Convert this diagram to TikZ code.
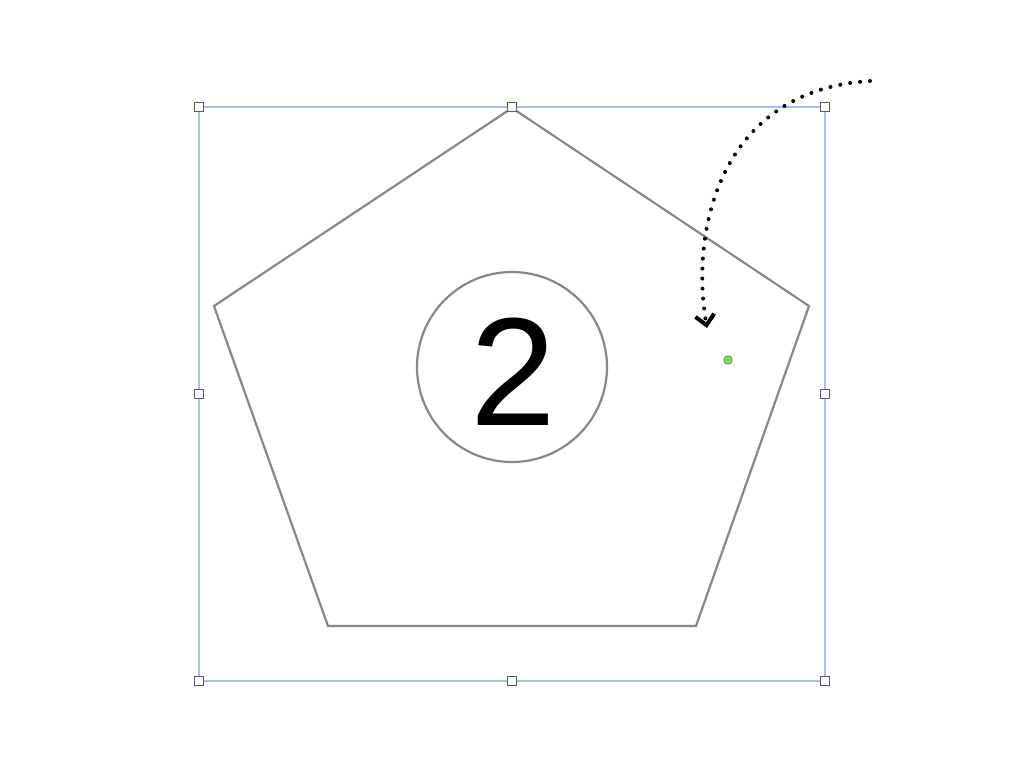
\documentclass[tikz,border=0pt]{standalone}
\usepackage{fontspec}
\setsansfont{Liberation Sans}
\usetikzlibrary{arrows.meta,positioning}
\definecolor{shapegray}{HTML}{888888}
\definecolor{selblue}{HTML}{A3BDF7}
\definecolor{handlegray}{HTML}{5A5A5A}
\definecolor{dotgreen}{HTML}{7FD65A}
\begin{document}
\begin{tikzpicture}[x=1pt,y=-1pt,semithick,
    outline/.style={draw=shapegray,line width=2.2pt},
    selbox/.style={draw=selblue,line width=1.3pt},
    handle/.style={draw=handlegray,fill=white,line width=1.2pt,minimum size=9pt,inner sep=0pt},
    dotarrow/.style={line width=4pt,line cap=round,dash pattern=on 0pt off 10pt,
      -{Straight Barb[length=10pt,width=19pt,line width=4pt]}}]
  \useasboundingbox (0,0) rectangle (1024,768);
      % pentagon corners
      \coordinate (top) at (512,108);
      \coordinate (rgt) at (809,306);
      \coordinate (brt) at (696,626);
      \coordinate (blt) at (328,626);
      \coordinate (lft) at (214,306);
      \draw[outline,line join=miter] (top) -- (rgt) -- (brt) -- (blt) -- (lft) -- cycle;
      \node[circle,outline,minimum size=190pt,inner sep=0pt] (num) at (512,367) {};
      \node[font=\sffamily\fontsize{154}{154}\selectfont,inner sep=0pt] (two) at (513,372) {2};
      % selection box and its handles
      \draw[selbox] (199,107) rectangle (825,681);
      \node[handle] (h1) at (199,107) {};
      \node[handle] (h2) at (512,107) {};
      \node[handle] (h3) at (825,107) {};
      \node[handle] (h4) at (199,394) {};
      \node[handle] (h5) at (825,394) {};
      \node[handle] (h6) at (199,681) {};
      \node[handle] (h7) at (512,681) {};
      \node[handle] (h8) at (825,681) {};
      \node[circle,fill=dotgreen,draw=dotgreen!70!black,line width=0.7pt,minimum size=8.5pt,inner sep=0pt] (pin) at (728,360) {};
      \coordinate (from) at (870,81);
      \coordinate (to) at (707,328);
      \draw[dotarrow] (from) .. controls (720,90) and (690,230) .. (to);
\end{tikzpicture}
\end{document}
